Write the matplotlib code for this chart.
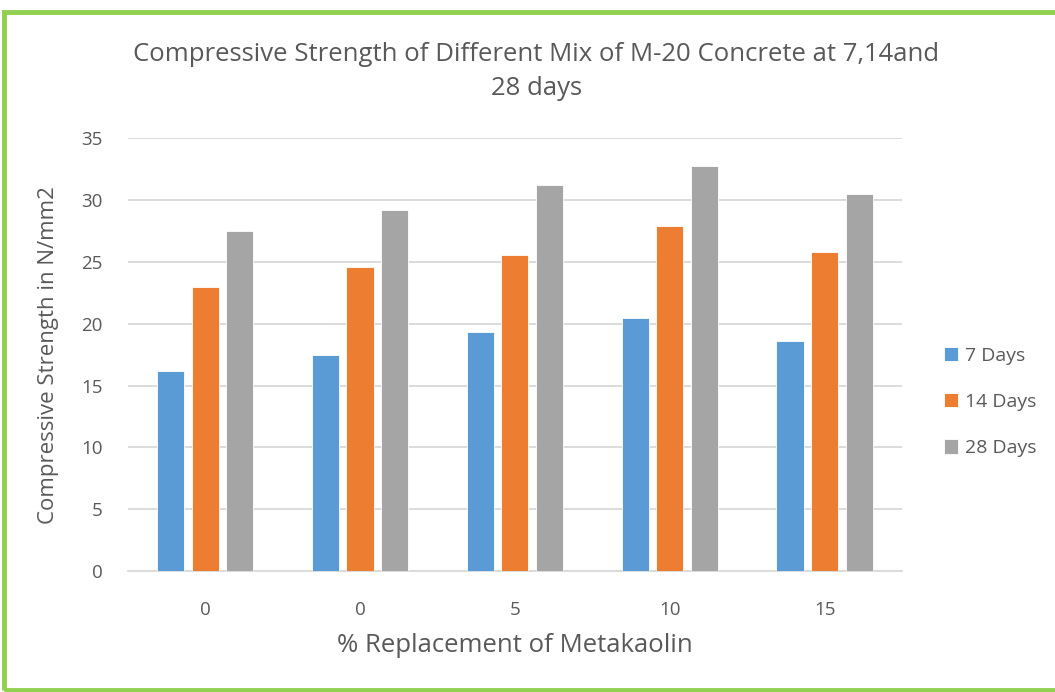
import matplotlib.pyplot as plt
import numpy as np
from matplotlib.patches import Rectangle

plt.rcParams['font.family'] = ['Open Sans', 'DejaVu Sans']

categories = ['0', '0', '5', '10', '15']
series = ['7 Days', '14 Days', '28 Days']
days7 = [16.2, 17.5, 19.3, 20.5, 18.6]
days14 = [23.0, 24.6, 25.6, 27.9, 25.8]
days28 = [27.5, 29.2, 31.2, 32.8, 30.5]
colors = ['#5B9BD5', '#ED7D31', '#A5A5A5']
text_color = '#595959'

fig = plt.figure(figsize=(10.55, 6.92), dpi=100)
ax = fig.add_axes([0.121, 0.175, 0.734, 0.625])

x = np.arange(len(categories))
width = 0.175
offset = 0.223
for i, (vals, name) in enumerate(zip([days7, days14, days28], series)):
    ax.bar(x + (i - 1) * offset, vals, width, color=colors[i], label=name,
           edgecolor='white', linewidth=0.6, zorder=3)

ax.set_xlim(-0.5, len(categories) - 0.5)
ax.set_ylim(0, 35)
ax.set_yticks(range(0, 36, 5))
ax.set_xticks(x)
ax.set_xticklabels(categories)
ax.grid(axis='y', color='#D9D9D9', linewidth=1.3, zorder=0)
for s in ['top', 'right', 'left']:
    ax.spines[s].set_visible(False)
ax.spines['bottom'].set_color('#D9D9D9')
ax.spines['bottom'].set_linewidth(1.3)
ax.tick_params(length=0, labelsize=13.5, colors=text_color)
ax.tick_params(axis='y', pad=18)
ax.tick_params(axis='x', pad=22)

ax.set_ylabel('Compressive Strength in N/mm2', fontsize=16, color=text_color, labelpad=16)
ax.set_xlabel('% Replacement of Metakaolin', fontsize=18.5, color=text_color, labelpad=10)
ax.set_title('Compressive Strength of Different Mix of M-20 Concrete at 7,14and\n28 days',
             fontsize=18.5, color=text_color, pad=31, linespacing=1.5, x=0.528)

ax.legend(loc='center left', bbox_to_anchor=(0.878, 1 - 402 / 692),
          bbox_transform=fig.transFigure, frameon=False,
          fontsize=14, labelcolor=text_color, handlelength=0.75, handleheight=0.75,
          labelspacing=1.45, handletextpad=0.35)

# green frame around the chart
fig.patches.append(Rectangle((4 / 1055, 2 / 692), 1.1, 678 / 692, transform=fig.transFigure,
                             fill=False, edgecolor='#92D050', linewidth=3.5, zorder=0))

fig.savefig('out.png', dpi=100, facecolor='white')
